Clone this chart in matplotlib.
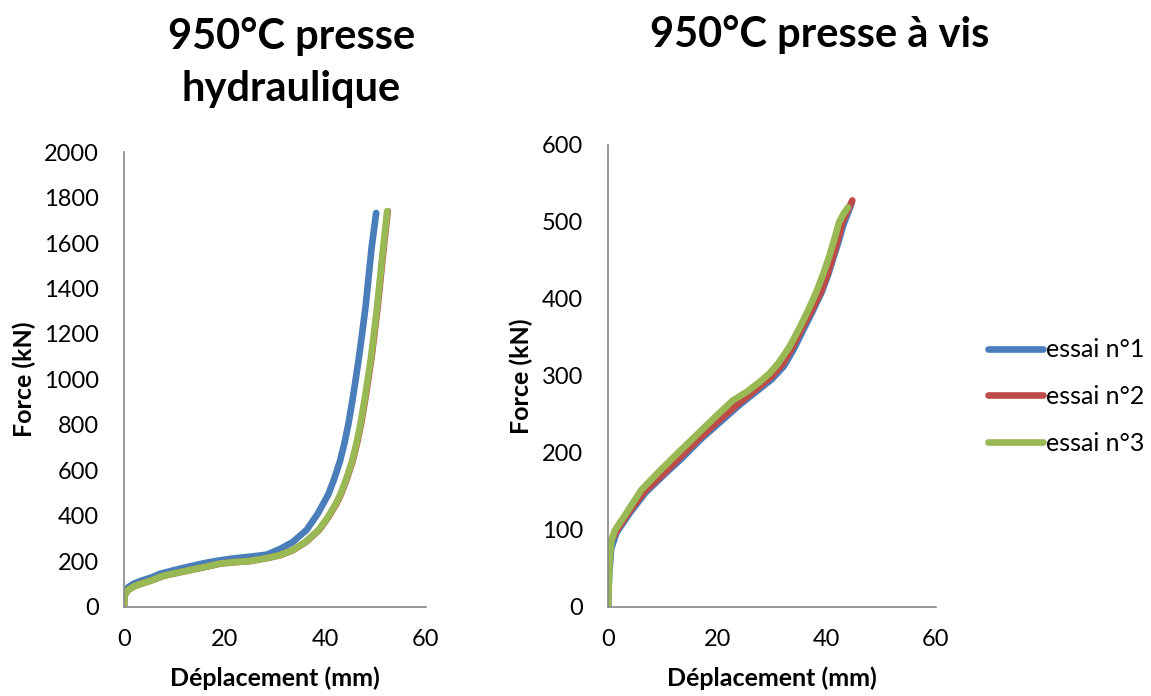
import matplotlib.pyplot as plt

plt.rcParams["font.family"] = ["Lato", "DejaVu Sans"]

# 950°C presse hydraulique (déplacement mm, force kN)
hyd_x1 = [0.0, 0.05, 0.2, 0.8, 1.9, 3.5, 5.5, 7.2, 10.0, 13.0, 16.0, 19.1, 22.0, 25.0, 28.4,
          31.0, 33.5, 36.3, 38.5, 40.6, 41.8, 42.9, 43.8, 44.6, 45.4, 46.1, 46.7, 47.3, 48.0,
          48.6, 49.2, 50.1]
hyd_y1 = [0, 40, 65, 86, 102, 116, 130, 146, 162, 178, 193, 205, 214, 221, 230,
          255, 285, 339, 410, 495, 565, 640, 720, 806, 910, 1010, 1100, 1200, 1320,
          1450, 1580, 1732]
hyd_x2 = [0.0, 0.05, 0.2, 0.8, 1.9, 3.5, 5.5, 7.9, 10.6, 13.6, 16.6, 19.2, 22.1, 25.1, 28.5,
          31.1, 33.6, 36.1, 38.8, 40.6, 42.1, 43.1, 44.3, 45.4, 46.3, 47.1, 47.9, 48.6, 49.2,
          49.7, 50.4, 51.0, 51.6, 52.4]
hyd_y2 = [0, 35, 55, 74, 90, 103, 117, 137, 150, 164, 178, 191, 197, 202, 215,
          228, 250, 285, 339, 395, 450, 495, 565, 640, 720, 806, 910, 1010, 1100,
          1190, 1320, 1450, 1580, 1740]
hyd_x3 = [0.0, 0.05, 0.2, 0.8, 1.9, 3.5, 5.5, 7.8, 10.5, 13.5, 16.5, 19.1, 22.0, 25.0, 28.4,
          31.0, 33.5, 36.0, 38.7, 40.5, 42.0, 43.0, 44.2, 45.3, 46.2, 47.0, 47.8, 48.5, 49.1,
          49.6, 50.3, 50.9, 51.5, 52.3]
hyd_y3 = [0, 35, 55, 74, 90, 103, 117, 137, 150, 164, 178, 191, 197, 202, 215,
          228, 250, 285, 339, 395, 450, 495, 565, 640, 720, 806, 910, 1010, 1100,
          1190, 1320, 1450, 1580, 1740]

# 950°C presse à vis
vis_x1 = [0.0, 0.2, 0.6, 1.6, 4.0, 6.8, 10.0, 13.5, 17.0, 20.5, 24.0, 27.0, 30.0, 32.2,
          34.0, 35.6, 37.5, 39.1, 40.3, 41.3, 42.2, 43.0, 43.8, 44.6]
vis_y1 = [0, 40, 76, 97, 122, 148, 170, 193, 218, 240, 262, 279, 296, 313,
          335, 358, 385, 409, 432, 455, 475, 495, 510, 525]
vis_x2 = [0.0, 0.1, 0.3, 1.5, 4.0, 6.7, 10.0, 13.4, 17.0, 20.4, 24.0, 27.0, 30.0, 32.0,
          33.8, 35.5, 37.4, 39.0, 40.2, 41.2, 42.1, 42.9, 43.8, 44.7]
vis_y2 = [0, 80, 82, 98, 125, 150, 172, 196, 221, 243, 265, 282, 300, 316,
          338, 362, 387, 410, 433, 456, 478, 500, 514, 528]
vis_x3 = [0.0, 0.3, 0.6, 1.2, 3.0, 6.1, 9.5, 12.5, 16.0, 19.2, 22.8, 25.5, 27.7, 29.5,
          31.1, 33.2, 35.0, 36.6, 38.1, 39.4, 40.5, 41.5, 42.3, 43.2, 43.9]
vis_y3 = [0, 60, 85, 99, 118, 152, 177, 198, 222, 244, 268, 280, 292, 303,
          316, 338, 362, 385, 409, 433, 456, 480, 500, 512, 519]

labels = ["essai n°1", "essai n°2", "essai n°3"]
colors = ["#4a7ebb", "#be4b48", "#98b954"]

fig = plt.figure(figsize=(11.51, 6.96), dpi=100)
ax1 = fig.add_axes([0.1077, 0.1279, 0.2624, 0.6537])
ax2 = fig.add_axes([0.5282, 0.1279, 0.2850, 0.6638])

lines = []
for xs, ys, c, lab in zip([hyd_x1, hyd_x2, hyd_x3], [hyd_y1, hyd_y2, hyd_y3], colors, labels):
    (ln,) = ax1.plot(xs, ys, color=c, lw=4.8, solid_capstyle="round", solid_joinstyle="round", label=lab)
    lines.append(ln)
for xs, ys, c in zip([vis_x1, vis_x2, vis_x3], [vis_y1, vis_y2, vis_y3], colors):
    ax2.plot(xs, ys, color=c, lw=4.8, solid_capstyle="round", solid_joinstyle="round")

for ax, ymax, ystep in [(ax1, 2000, 200), (ax2, 600, 100)]:
    ax.set_xlim(0, 60)
    ax.set_ylim(0, ymax)
    ax.set_xticks([0, 20, 40, 60])
    ax.set_yticks(range(0, ymax + 1, ystep))
    for s in ["top", "right"]:
        ax.spines[s].set_visible(False)
    for s in ["left", "bottom"]:
        ax.spines[s].set_color("#868686")
        ax.spines[s].set_linewidth(1.2)
    ax.tick_params(length=0, labelsize=17)
    ax.tick_params(axis="y", pad=18)
    ax.tick_params(axis="x", pad=16)
    ax.set_xlabel("Déplacement (mm)", fontsize=18, fontweight="bold", labelpad=12)
    ax.set_ylabel("Force (kN)", fontsize=18, fontweight="bold", labelpad=6)

fig.text(0.253, 0.910, "950°C presse\nhydraulique", ha="center", va="center",
         fontsize=30, fontweight="bold", linespacing=1.45)
fig.text(0.712, 0.951, "950°C presse à vis", ha="center", va="center",
         fontsize=30, fontweight="bold")

fig.legend(lines, labels, loc="center left", bbox_to_anchor=(0.858, 0.43), frameon=False,
           fontsize=18, handlelength=2.2, handletextpad=0.15, labelspacing=0.95,
           borderpad=0, borderaxespad=0)

fig.savefig("out.png", dpi=100)
